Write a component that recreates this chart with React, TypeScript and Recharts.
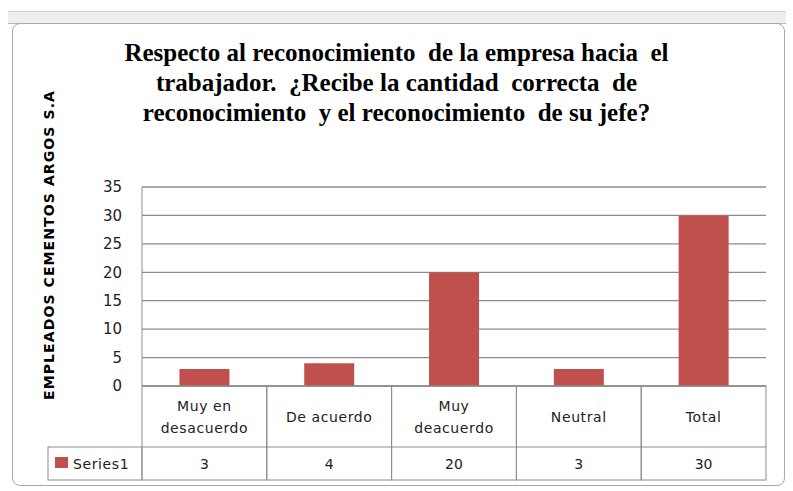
import React from 'react'
import { BarChart, Bar, XAxis, YAxis, CartesianGrid } from 'recharts'

// Categories, split into the two lines the data table shows
const categories = ['Muy en desacuerdo', 'De acuerdo', 'Muy de acuerdo', 'Neutral', 'Total']
const categoryLines = [
  ['Muy en', 'desacuerdo'],
  ['De acuerdo'],
  ['Muy', 'deacuerdo'],
  ['Neutral'],
  ['Total']
]
const series1 = [3, 4, 20, 3, 30]
const yTicks = [0, 5, 10, 15, 20, 25, 30, 35]

const seriesName = 'Series1'
const titleLines = [
  'Respecto al reconocimiento  de la empresa hacia  el',
  'trabajador.  ¿Recibe la cantidad  correcta  de',
  'reconocimiento  y el reconocimiento  de su jefe?'
]
const yLabel = 'EMPLEADOS  CEMENTOS  ARGOS S.A'

const data = categories.map((name, i) => ({ name, value: series1[i] }))

// layout
const W = 793
const H = 491
const PLOT_LEFT = 142
const PLOT_RIGHT = 766
const PLOT_TOP = 187
const PLOT_BOTTOM = 386
const ROW1_H = 61
const ROW2_H = 33
const LEGEND_LEFT = 48
const BAR_COLOR = '#C0504D'
const GRID = '#8c8c8c'
const TABLE_FONT = '"DejaVu Sans", sans-serif'

const Y_AXIS_W = 60
const X_AXIS_H = ROW1_H + ROW2_H
const bandW = (PLOT_RIGHT - PLOT_LEFT) / categories.length

// X axis tick renders one column of the data table
const TableTick = (props: any) => {
  const { x, index } = props
  const left = x - bandW / 2
  const top = PLOT_BOTTOM
  const lines = categoryLines[index]
  const lh = 22
  const startY = top + ROW1_H / 2 - ((lines.length - 1) * lh) / 2 + 5
  return (
    <g>
      <rect x={left} y={top} width={bandW} height={ROW1_H + ROW2_H} fill="none" stroke={GRID} strokeWidth={1} />
      <line x1={left} x2={left + bandW} y1={top + ROW1_H} y2={top + ROW1_H} stroke={GRID} />
      {lines.map((l, i) => (
        <text key={i} x={x} y={startY + i * lh} textAnchor="middle" fontSize={14} fill="#222" fontFamily={TABLE_FONT} letterSpacing={0.6}>
          {l}
        </text>
      ))}
      <text x={x} y={top + ROW1_H + ROW2_H / 2 + 5} textAnchor="middle" fontSize={14} fill="#222" fontFamily={TABLE_FONT}>
        {series1[index]}
      </text>
      {index === 0 && (
        <g>
          <rect x={LEGEND_LEFT} y={top + ROW1_H} width={left - LEGEND_LEFT} height={ROW2_H} fill="none" stroke={GRID} />
          <rect x={LEGEND_LEFT + 7} y={top + ROW1_H + 10} width={13} height={11} fill={BAR_COLOR} />
          <text x={LEGEND_LEFT + 25} y={top + ROW1_H + ROW2_H / 2 + 5} fontSize={14} fill="#222" fontFamily={TABLE_FONT} letterSpacing={0.6}>
            {seriesName}
          </text>
        </g>
      )}
    </g>
  )
}

const YLabel = () => (
  <text
    x={54}
    y={245}
    transform="rotate(-90 54 245)"
    textAnchor="middle"
    fontSize={14}
    fontWeight="bold"
    fill="#000"
    fontFamily='"DejaVu Sans", sans-serif'
    letterSpacing={1.1}
  >
    {yLabel}
  </text>
)

export default function App() {
  return (
    <div style={{ position: 'absolute', left: 0, top: 0, width: W, height: H, background: '#fff' }}>
      {/* window chrome strip */}
      <div style={{ position: 'absolute', left: 8, top: 11, width: 778, height: 11, background: '#eeeeee', borderTop: '1px solid #d0d0d0', borderBottom: '1px solid #b8b8b8' }} />
      <div style={{ position: 'absolute', left: 12, top: 23, width: 773, height: 463, border: '1px solid #a8a8a8', borderRadius: 8, boxSizing: 'border-box' }} />
      <div style={{ position: 'absolute', left: 0, top: 38, width: W, textAlign: 'center', fontFamily: '"Liberation Serif", serif', fontWeight: 'bold', fontSize: 25, lineHeight: '30px', color: '#000' }}>
        {titleLines.map((t, i) => (
          <div key={i} style={{ whiteSpace: 'pre' }}>{t}</div>
        ))}
      </div>
      <div style={{ position: 'absolute', left: 0, top: 0 }}>
        <BarChart
          width={W}
          height={H}
          data={data}
          margin={{ top: PLOT_TOP, right: W - PLOT_RIGHT, left: PLOT_LEFT - Y_AXIS_W, bottom: H - PLOT_BOTTOM - X_AXIS_H }}
          barCategoryGap="30%"
        >
          <CartesianGrid vertical={false} stroke={GRID} strokeWidth={1.3} />
          <XAxis
            dataKey="name"
            height={X_AXIS_H}
            axisLine={{ stroke: GRID }}
            tickLine={false}
            interval={0}
            tick={<TableTick />}
          />
          <YAxis
            width={Y_AXIS_W}
            domain={[0, 35]}
            ticks={yTicks}
            interval={0}
            axisLine={{ stroke: GRID }}
            tickLine={false}
            tickMargin={14}
            tick={{ fill: '#222', fontSize: 15, fontFamily: TABLE_FONT }}
          />
          <Bar dataKey="value" fill={BAR_COLOR} isAnimationActive={false} />
          <YLabel />
        </BarChart>
      </div>
    </div>
  )
}
